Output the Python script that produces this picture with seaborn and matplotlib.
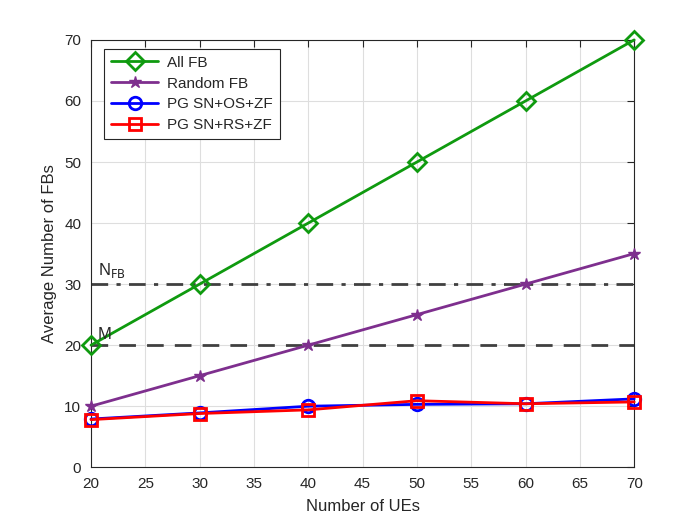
import pandas as pd
import seaborn as sns
from matplotlib import pyplot as plt

ues = [20, 30, 40, 50, 60, 70]
all_fb = [20, 30, 40, 50, 60, 70]
random_fb = [10, 15, 20, 25, 30, 35]
pg_os = [7.9, 8.9, 10.0, 10.3, 10.4, 11.2]
pg_rs = [7.8, 8.8, 9.4, 10.9, 10.4, 10.7]
n_fb = 30
m_val = 20

series = {
    'All FB': all_fb,
    'Random FB': random_fb,
    'PG SN+OS+ZF': pg_os,
    'PG SN+RS+ZF': pg_rs,
}
styles = {
    'All FB': ('#0f9a0f', 'D', 9),
    'Random FB': ('#7e2f8e', '*', 9),
    'PG SN+OS+ZF': ('#0000ff', 'o', 9),
    'PG SN+RS+ZF': ('#ff0000', 's', 8),
}


def main():
    sns.set_style('white')
    plt.rcParams['font.family'] = ['Liberation Sans', 'DejaVu Sans']
    fig = plt.figure(figsize=(7, 5.25), dpi=100)
    ax = fig.add_axes([0.13, 0.11, 0.776, 0.814])

    rows = []
    for name, vals in series.items():
        for x, y in zip(ues, vals):
            rows.append({'UEs': x, 'FBs': y, 'Scheme': name})
    data = pd.DataFrame(rows)

    for name in series:
        color, marker, ms = styles[name]
        sns.lineplot(data=data[data['Scheme'] == name], x='UEs', y='FBs',
                     color=color, marker=marker, markersize=ms, lw=2,
                     markerfacecolor='none' if marker != '*' else color,
                     markeredgecolor=color, markeredgewidth=2 if marker != '*' else 1,
                     label=name, ax=ax, clip_on=False, zorder=3)

    ax.axhline(n_fb, color='#404040', lw=2, ls=(0, (6, 3, 1.5, 3)), zorder=1)
    ax.axhline(m_val, color='#404040', lw=2, ls=(0, (6, 4)), zorder=1)
    ax.text(20.6, 31.5, r'N$_{\mathrm{FB}}$', fontsize=12)
    ax.text(20.6, 21, 'M', fontsize=12)

    ax.set_xlim(20, 70)
    ax.set_ylim(0, 70)
    ax.set_xticks(range(20, 71, 5))
    ax.set_yticks(range(0, 71, 10))
    ax.grid(True, color='#dedede', lw=0.8)
    ax.tick_params(direction='in', top=True, right=True, labelsize=11,
                   length=5, width=0.8, colors='#262626', pad=7)
    for s in ax.spines.values():
        s.set_color('#262626')
        s.set_linewidth(0.8)
    ax.set_xlabel('Number of UEs', fontsize=12, color='#262626', labelpad=6)
    ax.set_ylabel('Average Number of FBs', fontsize=12, color='#262626', labelpad=5)

    leg = ax.legend(loc='upper left', bbox_to_anchor=(0.024, 0.979),
                    borderaxespad=0, fontsize=11, fancybox=False,
                    edgecolor='#262626', handlelength=3.1, borderpad=0.45,
                    labelspacing=0.45, handletextpad=0.6, framealpha=1)
    leg.get_frame().set_linewidth(0.8)

    plt.savefig('out.png', dpi=100)


if __name__ == '__main__':
    main()
